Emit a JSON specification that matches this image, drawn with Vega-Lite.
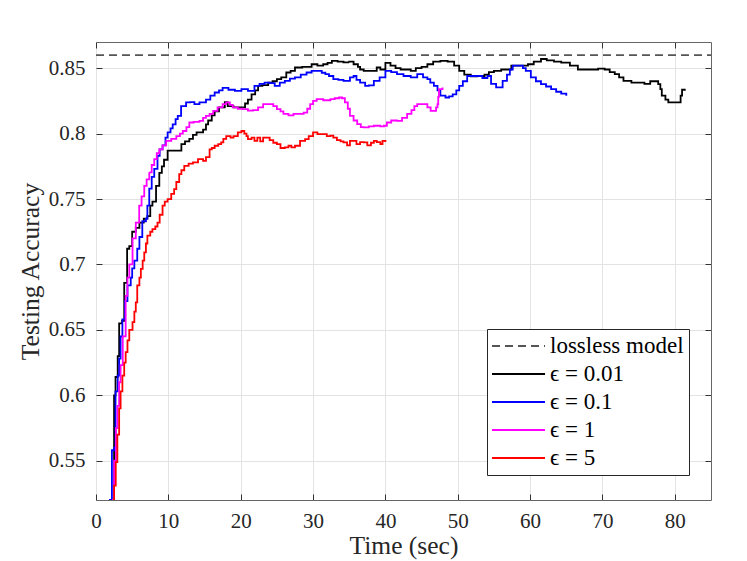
{
  "$schema": "https://vega.github.io/schema/vega-lite/v6.json",
  "description": "Testing accuracy over time for the lossless model and four epsilon settings.",
  "autosize": {"type": "none"},
  "padding": {"left": 96, "top": 42, "right": 36, "bottom": 61},
  "width": 615,
  "height": 458,
  "background": "white",
  "datasets": {
    "runs": [
      {"s": "lossless model", "t": 0, "v": 0.86},
      {"s": "lossless model", "t": 85, "v": 0.86},

      {"s": "ϵ = 0.01", "t": 2.2, "v": 0.52},
      {"s": "ϵ = 0.01", "t": 2.5, "v": 0.6},
      {"s": "ϵ = 0.01", "t": 2.7, "v": 0.614},
      {"s": "ϵ = 0.01", "t": 3.0, "v": 0.63},
      {"s": "ϵ = 0.01", "t": 3.2, "v": 0.655},
      {"s": "ϵ = 0.01", "t": 3.6, "v": 0.657},
      {"s": "ϵ = 0.01", "t": 3.9, "v": 0.686},
      {"s": "ϵ = 0.01", "t": 4.3, "v": 0.712},
      {"s": "ϵ = 0.01", "t": 4.6, "v": 0.714},
      {"s": "ϵ = 0.01", "t": 5.0, "v": 0.725},
      {"s": "ϵ = 0.01", "t": 5.5, "v": 0.728},
      {"s": "ϵ = 0.01", "t": 6.0, "v": 0.732},
      {"s": "ϵ = 0.01", "t": 6.6, "v": 0.735},
      {"s": "ϵ = 0.01", "t": 7.1, "v": 0.737},
      {"s": "ϵ = 0.01", "t": 7.5, "v": 0.745},
      {"s": "ϵ = 0.01", "t": 7.8, "v": 0.748},
      {"s": "ϵ = 0.01", "t": 8.3, "v": 0.76},
      {"s": "ϵ = 0.01", "t": 8.75, "v": 0.77},
      {"s": "ϵ = 0.01", "t": 9.1, "v": 0.775},
      {"s": "ϵ = 0.01", "t": 9.4, "v": 0.78},
      {"s": "ϵ = 0.01", "t": 9.9, "v": 0.787},
      {"s": "ϵ = 0.01", "t": 11.3, "v": 0.787},
      {"s": "ϵ = 0.01", "t": 11.8, "v": 0.792},
      {"s": "ϵ = 0.01", "t": 12.3, "v": 0.794},
      {"s": "ϵ = 0.01", "t": 12.9, "v": 0.796},
      {"s": "ϵ = 0.01", "t": 13.4, "v": 0.799},
      {"s": "ϵ = 0.01", "t": 13.9, "v": 0.801},
      {"s": "ϵ = 0.01", "t": 14.8, "v": 0.803},
      {"s": "ϵ = 0.01", "t": 15.2, "v": 0.807},
      {"s": "ϵ = 0.01", "t": 15.5, "v": 0.81},
      {"s": "ϵ = 0.01", "t": 16.0, "v": 0.814},
      {"s": "ϵ = 0.01", "t": 16.4, "v": 0.817},
      {"s": "ϵ = 0.01", "t": 17.0, "v": 0.82},
      {"s": "ϵ = 0.01", "t": 17.8, "v": 0.824},
      {"s": "ϵ = 0.01", "t": 18.2, "v": 0.821},
      {"s": "ϵ = 0.01", "t": 19.0, "v": 0.82},
      {"s": "ϵ = 0.01", "t": 20.1, "v": 0.82},
      {"s": "ϵ = 0.01", "t": 20.6, "v": 0.823},
      {"s": "ϵ = 0.01", "t": 21.0, "v": 0.826},
      {"s": "ϵ = 0.01", "t": 21.5, "v": 0.83},
      {"s": "ϵ = 0.01", "t": 22.0, "v": 0.833},
      {"s": "ϵ = 0.01", "t": 22.4, "v": 0.8365},
      {"s": "ϵ = 0.01", "t": 23.0, "v": 0.837},
      {"s": "ϵ = 0.01", "t": 23.8, "v": 0.839},
      {"s": "ϵ = 0.01", "t": 24.4, "v": 0.84},
      {"s": "ϵ = 0.01", "t": 25.0, "v": 0.8416},
      {"s": "ϵ = 0.01", "t": 25.6, "v": 0.843},
      {"s": "ϵ = 0.01", "t": 26.3, "v": 0.8467},
      {"s": "ϵ = 0.01", "t": 26.9, "v": 0.848},
      {"s": "ϵ = 0.01", "t": 27.5, "v": 0.8505},
      {"s": "ϵ = 0.01", "t": 28.5, "v": 0.851},
      {"s": "ϵ = 0.01", "t": 29.8, "v": 0.853},
      {"s": "ϵ = 0.01", "t": 30.6, "v": 0.852},
      {"s": "ϵ = 0.01", "t": 31.4, "v": 0.853},
      {"s": "ϵ = 0.01", "t": 32.0, "v": 0.854},
      {"s": "ϵ = 0.01", "t": 32.6, "v": 0.8556},
      {"s": "ϵ = 0.01", "t": 33.4, "v": 0.855},
      {"s": "ϵ = 0.01", "t": 34.2, "v": 0.8545},
      {"s": "ϵ = 0.01", "t": 35.0, "v": 0.855},
      {"s": "ϵ = 0.01", "t": 35.6, "v": 0.853},
      {"s": "ϵ = 0.01", "t": 36.2, "v": 0.851},
      {"s": "ϵ = 0.01", "t": 36.5, "v": 0.849},
      {"s": "ϵ = 0.01", "t": 37.0, "v": 0.848},
      {"s": "ϵ = 0.01", "t": 37.9, "v": 0.848},
      {"s": "ϵ = 0.01", "t": 38.8, "v": 0.8505},
      {"s": "ϵ = 0.01", "t": 39.3, "v": 0.849},
      {"s": "ϵ = 0.01", "t": 40.0, "v": 0.854},
      {"s": "ϵ = 0.01", "t": 40.7, "v": 0.852},
      {"s": "ϵ = 0.01", "t": 41.4, "v": 0.85},
      {"s": "ϵ = 0.01", "t": 42.1, "v": 0.849},
      {"s": "ϵ = 0.01", "t": 43.5, "v": 0.848},
      {"s": "ϵ = 0.01", "t": 44.2, "v": 0.85},
      {"s": "ϵ = 0.01", "t": 45.0, "v": 0.851},
      {"s": "ϵ = 0.01", "t": 45.8, "v": 0.853},
      {"s": "ϵ = 0.01", "t": 46.6, "v": 0.855},
      {"s": "ϵ = 0.01", "t": 47.6, "v": 0.8556},
      {"s": "ϵ = 0.01", "t": 48.6, "v": 0.855},
      {"s": "ϵ = 0.01", "t": 49.5, "v": 0.852},
      {"s": "ϵ = 0.01", "t": 50.2, "v": 0.848},
      {"s": "ϵ = 0.01", "t": 50.9, "v": 0.845},
      {"s": "ϵ = 0.01", "t": 51.8, "v": 0.8437},
      {"s": "ϵ = 0.01", "t": 52.7, "v": 0.844},
      {"s": "ϵ = 0.01", "t": 53.7, "v": 0.845},
      {"s": "ϵ = 0.01", "t": 54.3, "v": 0.847},
      {"s": "ϵ = 0.01", "t": 55.0, "v": 0.848},
      {"s": "ϵ = 0.01", "t": 56.0, "v": 0.849},
      {"s": "ϵ = 0.01", "t": 57.4, "v": 0.852},
      {"s": "ϵ = 0.01", "t": 58.5, "v": 0.852},
      {"s": "ϵ = 0.01", "t": 59.7, "v": 0.853},
      {"s": "ϵ = 0.01", "t": 60.5, "v": 0.855},
      {"s": "ϵ = 0.01", "t": 61.5, "v": 0.857},
      {"s": "ϵ = 0.01", "t": 62.3, "v": 0.856},
      {"s": "ϵ = 0.01", "t": 63.3, "v": 0.855},
      {"s": "ϵ = 0.01", "t": 64.3, "v": 0.8543},
      {"s": "ϵ = 0.01", "t": 65.5, "v": 0.852},
      {"s": "ϵ = 0.01", "t": 66.6, "v": 0.849},
      {"s": "ϵ = 0.01", "t": 67.8, "v": 0.849},
      {"s": "ϵ = 0.01", "t": 69.4, "v": 0.8497},
      {"s": "ϵ = 0.01", "t": 70.3, "v": 0.849},
      {"s": "ϵ = 0.01", "t": 71.0, "v": 0.847},
      {"s": "ϵ = 0.01", "t": 71.7, "v": 0.8454},
      {"s": "ϵ = 0.01", "t": 72.3, "v": 0.843},
      {"s": "ϵ = 0.01", "t": 72.9, "v": 0.8403},
      {"s": "ϵ = 0.01", "t": 74.0, "v": 0.839},
      {"s": "ϵ = 0.01", "t": 75.0, "v": 0.839},
      {"s": "ϵ = 0.01", "t": 75.8, "v": 0.838},
      {"s": "ϵ = 0.01", "t": 76.6, "v": 0.84},
      {"s": "ϵ = 0.01", "t": 77.7, "v": 0.8378},
      {"s": "ϵ = 0.01", "t": 78.0, "v": 0.834},
      {"s": "ϵ = 0.01", "t": 78.2, "v": 0.829},
      {"s": "ϵ = 0.01", "t": 78.7, "v": 0.826},
      {"s": "ϵ = 0.01", "t": 79.1, "v": 0.8238},
      {"s": "ϵ = 0.01", "t": 80.3, "v": 0.8238},
      {"s": "ϵ = 0.01", "t": 80.8, "v": 0.829},
      {"s": "ϵ = 0.01", "t": 81.0, "v": 0.8335},
      {"s": "ϵ = 0.01", "t": 81.5, "v": 0.8335},

      {"s": "ϵ = 0.1", "t": 1.8, "v": 0.52},
      {"s": "ϵ = 0.1", "t": 2.2, "v": 0.558},
      {"s": "ϵ = 0.1", "t": 2.5, "v": 0.56},
      {"s": "ϵ = 0.1", "t": 2.7, "v": 0.603},
      {"s": "ϵ = 0.1", "t": 3.0, "v": 0.615},
      {"s": "ϵ = 0.1", "t": 3.2, "v": 0.628},
      {"s": "ϵ = 0.1", "t": 3.4, "v": 0.645},
      {"s": "ϵ = 0.1", "t": 3.65, "v": 0.658},
      {"s": "ϵ = 0.1", "t": 4.0, "v": 0.672},
      {"s": "ϵ = 0.1", "t": 4.35, "v": 0.684},
      {"s": "ϵ = 0.1", "t": 4.8, "v": 0.69},
      {"s": "ϵ = 0.1", "t": 5.0, "v": 0.697},
      {"s": "ϵ = 0.1", "t": 5.3, "v": 0.703},
      {"s": "ϵ = 0.1", "t": 5.7, "v": 0.712},
      {"s": "ϵ = 0.1", "t": 6.0, "v": 0.721},
      {"s": "ϵ = 0.1", "t": 6.4, "v": 0.733},
      {"s": "ϵ = 0.1", "t": 6.9, "v": 0.735},
      {"s": "ϵ = 0.1", "t": 7.1, "v": 0.745},
      {"s": "ϵ = 0.1", "t": 7.36, "v": 0.758},
      {"s": "ϵ = 0.1", "t": 7.7, "v": 0.767},
      {"s": "ϵ = 0.1", "t": 8.05, "v": 0.773},
      {"s": "ϵ = 0.1", "t": 8.5, "v": 0.783},
      {"s": "ϵ = 0.1", "t": 8.8, "v": 0.788},
      {"s": "ϵ = 0.1", "t": 9.2, "v": 0.791},
      {"s": "ϵ = 0.1", "t": 9.6, "v": 0.797},
      {"s": "ϵ = 0.1", "t": 9.9, "v": 0.801},
      {"s": "ϵ = 0.1", "t": 10.3, "v": 0.804},
      {"s": "ϵ = 0.1", "t": 10.6, "v": 0.807},
      {"s": "ϵ = 0.1", "t": 11.0, "v": 0.811},
      {"s": "ϵ = 0.1", "t": 11.3, "v": 0.8136},
      {"s": "ϵ = 0.1", "t": 11.76, "v": 0.821},
      {"s": "ϵ = 0.1", "t": 12.45, "v": 0.8238},
      {"s": "ϵ = 0.1", "t": 13.0, "v": 0.824},
      {"s": "ϵ = 0.1", "t": 13.6, "v": 0.8225},
      {"s": "ϵ = 0.1", "t": 14.3, "v": 0.8238},
      {"s": "ϵ = 0.1", "t": 15.2, "v": 0.826},
      {"s": "ϵ = 0.1", "t": 15.8, "v": 0.829},
      {"s": "ϵ = 0.1", "t": 16.4, "v": 0.8314},
      {"s": "ϵ = 0.1", "t": 17.0, "v": 0.833},
      {"s": "ϵ = 0.1", "t": 17.5, "v": 0.835},
      {"s": "ϵ = 0.1", "t": 18.3, "v": 0.8335},
      {"s": "ϵ = 0.1", "t": 19.2, "v": 0.8327},
      {"s": "ϵ = 0.1", "t": 20.1, "v": 0.834},
      {"s": "ϵ = 0.1", "t": 21.0, "v": 0.8327},
      {"s": "ϵ = 0.1", "t": 21.9, "v": 0.8365},
      {"s": "ϵ = 0.1", "t": 22.6, "v": 0.838},
      {"s": "ϵ = 0.1", "t": 23.3, "v": 0.839},
      {"s": "ϵ = 0.1", "t": 24.0, "v": 0.8385},
      {"s": "ϵ = 0.1", "t": 24.7, "v": 0.8365},
      {"s": "ϵ = 0.1", "t": 25.4, "v": 0.839},
      {"s": "ϵ = 0.1", "t": 26.1, "v": 0.8403},
      {"s": "ϵ = 0.1", "t": 26.8, "v": 0.842},
      {"s": "ϵ = 0.1", "t": 27.5, "v": 0.843},
      {"s": "ϵ = 0.1", "t": 28.3, "v": 0.845},
      {"s": "ϵ = 0.1", "t": 29.1, "v": 0.8467},
      {"s": "ϵ = 0.1", "t": 29.8, "v": 0.848},
      {"s": "ϵ = 0.1", "t": 30.5, "v": 0.848},
      {"s": "ϵ = 0.1", "t": 31.2, "v": 0.8465},
      {"s": "ϵ = 0.1", "t": 31.7, "v": 0.8454},
      {"s": "ϵ = 0.1", "t": 32.2, "v": 0.844},
      {"s": "ϵ = 0.1", "t": 32.8, "v": 0.8416},
      {"s": "ϵ = 0.1", "t": 33.5, "v": 0.841},
      {"s": "ϵ = 0.1", "t": 34.2, "v": 0.8403},
      {"s": "ϵ = 0.1", "t": 35.1, "v": 0.843},
      {"s": "ϵ = 0.1", "t": 35.6, "v": 0.844},
      {"s": "ϵ = 0.1", "t": 36.0, "v": 0.841},
      {"s": "ϵ = 0.1", "t": 36.5, "v": 0.839},
      {"s": "ϵ = 0.1", "t": 37.2, "v": 0.8365},
      {"s": "ϵ = 0.1", "t": 37.7, "v": 0.8368},
      {"s": "ϵ = 0.1", "t": 38.4, "v": 0.8403},
      {"s": "ϵ = 0.1", "t": 39.2, "v": 0.843},
      {"s": "ϵ = 0.1", "t": 40.0, "v": 0.848},
      {"s": "ϵ = 0.1", "t": 40.8, "v": 0.847},
      {"s": "ϵ = 0.1", "t": 41.6, "v": 0.8454},
      {"s": "ϵ = 0.1", "t": 42.5, "v": 0.844},
      {"s": "ϵ = 0.1", "t": 43.5, "v": 0.843},
      {"s": "ϵ = 0.1", "t": 44.4, "v": 0.8454},
      {"s": "ϵ = 0.1", "t": 45.2, "v": 0.843},
      {"s": "ϵ = 0.1", "t": 45.8, "v": 0.8416},
      {"s": "ϵ = 0.1", "t": 46.2, "v": 0.839},
      {"s": "ϵ = 0.1", "t": 46.7, "v": 0.8365},
      {"s": "ϵ = 0.1", "t": 47.2, "v": 0.833},
      {"s": "ϵ = 0.1", "t": 47.6, "v": 0.829},
      {"s": "ϵ = 0.1", "t": 48.3, "v": 0.8276},
      {"s": "ϵ = 0.1", "t": 48.8, "v": 0.8285},
      {"s": "ϵ = 0.1", "t": 49.3, "v": 0.83},
      {"s": "ϵ = 0.1", "t": 49.8, "v": 0.833},
      {"s": "ϵ = 0.1", "t": 50.2, "v": 0.8365},
      {"s": "ϵ = 0.1", "t": 50.7, "v": 0.84},
      {"s": "ϵ = 0.1", "t": 51.3, "v": 0.844},
      {"s": "ϵ = 0.1", "t": 52.7, "v": 0.844},
      {"s": "ϵ = 0.1", "t": 53.4, "v": 0.8425},
      {"s": "ϵ = 0.1", "t": 54.1, "v": 0.844},
      {"s": "ϵ = 0.1", "t": 54.6, "v": 0.838},
      {"s": "ϵ = 0.1", "t": 55.3, "v": 0.8353},
      {"s": "ϵ = 0.1", "t": 56.2, "v": 0.8403},
      {"s": "ϵ = 0.1", "t": 56.8, "v": 0.845},
      {"s": "ϵ = 0.1", "t": 57.2, "v": 0.849},
      {"s": "ϵ = 0.1", "t": 57.6, "v": 0.852},
      {"s": "ϵ = 0.1", "t": 58.5, "v": 0.852},
      {"s": "ϵ = 0.1", "t": 59.0, "v": 0.85},
      {"s": "ϵ = 0.1", "t": 59.4, "v": 0.848},
      {"s": "ϵ = 0.1", "t": 60.1, "v": 0.843},
      {"s": "ϵ = 0.1", "t": 60.8, "v": 0.84},
      {"s": "ϵ = 0.1", "t": 61.5, "v": 0.8378},
      {"s": "ϵ = 0.1", "t": 62.2, "v": 0.836},
      {"s": "ϵ = 0.1", "t": 62.9, "v": 0.834},
      {"s": "ϵ = 0.1", "t": 63.6, "v": 0.832},
      {"s": "ϵ = 0.1", "t": 64.3, "v": 0.8305},
      {"s": "ϵ = 0.1", "t": 65.0, "v": 0.829},

      {"s": "ϵ = 1", "t": 2.2, "v": 0.52},
      {"s": "ϵ = 1", "t": 2.5, "v": 0.55},
      {"s": "ϵ = 1", "t": 2.75, "v": 0.575},
      {"s": "ϵ = 1", "t": 2.96, "v": 0.592},
      {"s": "ϵ = 1", "t": 3.2, "v": 0.61},
      {"s": "ϵ = 1", "t": 3.4, "v": 0.623},
      {"s": "ϵ = 1", "t": 3.7, "v": 0.645},
      {"s": "ϵ = 1", "t": 4.1, "v": 0.676},
      {"s": "ϵ = 1", "t": 4.35, "v": 0.69},
      {"s": "ϵ = 1", "t": 4.6, "v": 0.7},
      {"s": "ϵ = 1", "t": 5.05, "v": 0.72},
      {"s": "ϵ = 1", "t": 5.5, "v": 0.732},
      {"s": "ϵ = 1", "t": 5.97, "v": 0.745},
      {"s": "ϵ = 1", "t": 6.3, "v": 0.752},
      {"s": "ϵ = 1", "t": 6.67, "v": 0.76},
      {"s": "ϵ = 1", "t": 7.0, "v": 0.765},
      {"s": "ϵ = 1", "t": 7.36, "v": 0.7704},
      {"s": "ϵ = 1", "t": 7.7, "v": 0.776},
      {"s": "ϵ = 1", "t": 8.05, "v": 0.7805},
      {"s": "ϵ = 1", "t": 8.4, "v": 0.785},
      {"s": "ϵ = 1", "t": 8.75, "v": 0.788},
      {"s": "ϵ = 1", "t": 9.2, "v": 0.791},
      {"s": "ϵ = 1", "t": 9.7, "v": 0.7945},
      {"s": "ϵ = 1", "t": 10.4, "v": 0.796},
      {"s": "ϵ = 1", "t": 11.1, "v": 0.798},
      {"s": "ϵ = 1", "t": 11.6, "v": 0.8},
      {"s": "ϵ = 1", "t": 12.0, "v": 0.802},
      {"s": "ϵ = 1", "t": 12.5, "v": 0.805},
      {"s": "ϵ = 1", "t": 12.9, "v": 0.8085},
      {"s": "ϵ = 1", "t": 13.5, "v": 0.809},
      {"s": "ϵ = 1", "t": 14.3, "v": 0.8098},
      {"s": "ϵ = 1", "t": 14.8, "v": 0.812},
      {"s": "ϵ = 1", "t": 15.2, "v": 0.8136},
      {"s": "ϵ = 1", "t": 15.7, "v": 0.815},
      {"s": "ϵ = 1", "t": 16.2, "v": 0.8174},
      {"s": "ϵ = 1", "t": 16.8, "v": 0.82},
      {"s": "ϵ = 1", "t": 17.5, "v": 0.8225},
      {"s": "ϵ = 1", "t": 18.0, "v": 0.8238},
      {"s": "ϵ = 1", "t": 18.5, "v": 0.822},
      {"s": "ϵ = 1", "t": 18.9, "v": 0.82},
      {"s": "ϵ = 1", "t": 19.6, "v": 0.819},
      {"s": "ϵ = 1", "t": 20.3, "v": 0.8187},
      {"s": "ϵ = 1", "t": 21.0, "v": 0.8175},
      {"s": "ϵ = 1", "t": 21.7, "v": 0.818},
      {"s": "ϵ = 1", "t": 22.4, "v": 0.82},
      {"s": "ϵ = 1", "t": 23.1, "v": 0.8225},
      {"s": "ϵ = 1", "t": 24.0, "v": 0.8225},
      {"s": "ϵ = 1", "t": 24.5, "v": 0.821},
      {"s": "ϵ = 1", "t": 25.0, "v": 0.8187},
      {"s": "ϵ = 1", "t": 25.5, "v": 0.817},
      {"s": "ϵ = 1", "t": 25.9, "v": 0.815},
      {"s": "ϵ = 1", "t": 26.6, "v": 0.814},
      {"s": "ϵ = 1", "t": 27.3, "v": 0.815},
      {"s": "ϵ = 1", "t": 28.0, "v": 0.815},
      {"s": "ϵ = 1", "t": 28.7, "v": 0.816},
      {"s": "ϵ = 1", "t": 29.2, "v": 0.819},
      {"s": "ϵ = 1", "t": 29.6, "v": 0.8225},
      {"s": "ϵ = 1", "t": 30.0, "v": 0.825},
      {"s": "ϵ = 1", "t": 30.5, "v": 0.8263},
      {"s": "ϵ = 1", "t": 31.4, "v": 0.8255},
      {"s": "ϵ = 1", "t": 32.4, "v": 0.8263},
      {"s": "ϵ = 1", "t": 33.0, "v": 0.827},
      {"s": "ϵ = 1", "t": 33.6, "v": 0.8276},
      {"s": "ϵ = 1", "t": 34.0, "v": 0.827},
      {"s": "ϵ = 1", "t": 34.4, "v": 0.8238},
      {"s": "ϵ = 1", "t": 34.8, "v": 0.819},
      {"s": "ϵ = 1", "t": 35.1, "v": 0.8136},
      {"s": "ϵ = 1", "t": 35.6, "v": 0.81},
      {"s": "ϵ = 1", "t": 36.1, "v": 0.8073},
      {"s": "ϵ = 1", "t": 36.6, "v": 0.805},
      {"s": "ϵ = 1", "t": 37.0, "v": 0.8047},
      {"s": "ϵ = 1", "t": 37.7, "v": 0.8055},
      {"s": "ϵ = 1", "t": 38.4, "v": 0.806},
      {"s": "ϵ = 1", "t": 39.3, "v": 0.8055},
      {"s": "ϵ = 1", "t": 39.8, "v": 0.806},
      {"s": "ϵ = 1", "t": 40.2, "v": 0.8085},
      {"s": "ϵ = 1", "t": 40.8, "v": 0.81},
      {"s": "ϵ = 1", "t": 41.6, "v": 0.8098},
      {"s": "ϵ = 1", "t": 42.3, "v": 0.812},
      {"s": "ϵ = 1", "t": 43.0, "v": 0.815},
      {"s": "ϵ = 1", "t": 43.6, "v": 0.818},
      {"s": "ϵ = 1", "t": 44.0, "v": 0.821},
      {"s": "ϵ = 1", "t": 44.4, "v": 0.8225},
      {"s": "ϵ = 1", "t": 45.3, "v": 0.8225},
      {"s": "ϵ = 1", "t": 45.8, "v": 0.82},
      {"s": "ϵ = 1", "t": 46.25, "v": 0.8174},
      {"s": "ϵ = 1", "t": 46.7, "v": 0.8174},
      {"s": "ϵ = 1", "t": 47.0, "v": 0.82},
      {"s": "ϵ = 1", "t": 47.2, "v": 0.8225},
      {"s": "ϵ = 1", "t": 47.3, "v": 0.828},
      {"s": "ϵ = 1", "t": 47.4, "v": 0.834},
      {"s": "ϵ = 1", "t": 47.9, "v": 0.8353},

      {"s": "ϵ = 5", "t": 2.3, "v": 0.52},
      {"s": "ϵ = 5", "t": 2.5, "v": 0.531},
      {"s": "ϵ = 5", "t": 2.73, "v": 0.549},
      {"s": "ϵ = 5", "t": 2.95, "v": 0.57},
      {"s": "ϵ = 5", "t": 3.2, "v": 0.59},
      {"s": "ϵ = 5", "t": 3.4, "v": 0.603},
      {"s": "ϵ = 5", "t": 3.65, "v": 0.615},
      {"s": "ϵ = 5", "t": 3.9, "v": 0.625},
      {"s": "ϵ = 5", "t": 4.1, "v": 0.633},
      {"s": "ϵ = 5", "t": 4.35, "v": 0.642},
      {"s": "ϵ = 5", "t": 4.6, "v": 0.65},
      {"s": "ϵ = 5", "t": 5.05, "v": 0.656},
      {"s": "ϵ = 5", "t": 5.3, "v": 0.664},
      {"s": "ϵ = 5", "t": 5.5, "v": 0.671},
      {"s": "ϵ = 5", "t": 5.7, "v": 0.684},
      {"s": "ϵ = 5", "t": 6.0, "v": 0.69},
      {"s": "ϵ = 5", "t": 6.2, "v": 0.6966},
      {"s": "ϵ = 5", "t": 6.45, "v": 0.703},
      {"s": "ϵ = 5", "t": 6.67, "v": 0.7093},
      {"s": "ϵ = 5", "t": 6.9, "v": 0.716},
      {"s": "ϵ = 5", "t": 7.1, "v": 0.722},
      {"s": "ϵ = 5", "t": 7.5, "v": 0.725},
      {"s": "ϵ = 5", "t": 7.8, "v": 0.727},
      {"s": "ϵ = 5", "t": 8.2, "v": 0.729},
      {"s": "ϵ = 5", "t": 8.5, "v": 0.732},
      {"s": "ϵ = 5", "t": 8.8, "v": 0.738},
      {"s": "ϵ = 5", "t": 9.2, "v": 0.745},
      {"s": "ϵ = 5", "t": 9.5, "v": 0.748},
      {"s": "ϵ = 5", "t": 9.9, "v": 0.75},
      {"s": "ϵ = 5", "t": 10.4, "v": 0.754},
      {"s": "ϵ = 5", "t": 10.8, "v": 0.7576},
      {"s": "ϵ = 5", "t": 11.1, "v": 0.763},
      {"s": "ϵ = 5", "t": 11.5, "v": 0.769},
      {"s": "ϵ = 5", "t": 11.8, "v": 0.772},
      {"s": "ϵ = 5", "t": 12.2, "v": 0.7754},
      {"s": "ϵ = 5", "t": 12.8, "v": 0.777},
      {"s": "ϵ = 5", "t": 13.4, "v": 0.778},
      {"s": "ϵ = 5", "t": 14.1, "v": 0.7805},
      {"s": "ϵ = 5", "t": 14.8, "v": 0.7792},
      {"s": "ϵ = 5", "t": 15.2, "v": 0.782},
      {"s": "ϵ = 5", "t": 15.7, "v": 0.788},
      {"s": "ϵ = 5", "t": 16.0, "v": 0.789},
      {"s": "ϵ = 5", "t": 16.4, "v": 0.7907},
      {"s": "ϵ = 5", "t": 16.9, "v": 0.792},
      {"s": "ϵ = 5", "t": 17.3, "v": 0.7933},
      {"s": "ϵ = 5", "t": 17.6, "v": 0.796},
      {"s": "ϵ = 5", "t": 18.0, "v": 0.798},
      {"s": "ϵ = 5", "t": 18.6, "v": 0.797},
      {"s": "ϵ = 5", "t": 19.0, "v": 0.798},
      {"s": "ϵ = 5", "t": 19.6, "v": 0.801},
      {"s": "ϵ = 5", "t": 20.1, "v": 0.802},
      {"s": "ϵ = 5", "t": 20.5, "v": 0.8},
      {"s": "ϵ = 5", "t": 20.8, "v": 0.798},
      {"s": "ϵ = 5", "t": 21.0, "v": 0.7958},
      {"s": "ϵ = 5", "t": 21.5, "v": 0.797},
      {"s": "ϵ = 5", "t": 21.9, "v": 0.7945},
      {"s": "ϵ = 5", "t": 22.3, "v": 0.797},
      {"s": "ϵ = 5", "t": 22.7, "v": 0.794},
      {"s": "ϵ = 5", "t": 23.1, "v": 0.797},
      {"s": "ϵ = 5", "t": 23.6, "v": 0.797},
      {"s": "ϵ = 5", "t": 24.0, "v": 0.795},
      {"s": "ϵ = 5", "t": 24.5, "v": 0.793},
      {"s": "ϵ = 5", "t": 25.0, "v": 0.792},
      {"s": "ϵ = 5", "t": 25.5, "v": 0.789},
      {"s": "ϵ = 5", "t": 26.1, "v": 0.7895},
      {"s": "ϵ = 5", "t": 26.6, "v": 0.7907},
      {"s": "ϵ = 5", "t": 27.0, "v": 0.7895},
      {"s": "ϵ = 5", "t": 27.5, "v": 0.7907},
      {"s": "ϵ = 5", "t": 28.2, "v": 0.7945},
      {"s": "ϵ = 5", "t": 28.9, "v": 0.7958},
      {"s": "ϵ = 5", "t": 29.4, "v": 0.798},
      {"s": "ϵ = 5", "t": 30.0, "v": 0.801},
      {"s": "ϵ = 5", "t": 30.6, "v": 0.7996},
      {"s": "ϵ = 5", "t": 31.4, "v": 0.7996},
      {"s": "ϵ = 5", "t": 31.9, "v": 0.798},
      {"s": "ϵ = 5", "t": 32.4, "v": 0.7985},
      {"s": "ϵ = 5", "t": 32.8, "v": 0.797},
      {"s": "ϵ = 5", "t": 33.3, "v": 0.795},
      {"s": "ϵ = 5", "t": 33.8, "v": 0.794},
      {"s": "ϵ = 5", "t": 34.2, "v": 0.7933},
      {"s": "ϵ = 5", "t": 34.7, "v": 0.791},
      {"s": "ϵ = 5", "t": 35.1, "v": 0.7945},
      {"s": "ϵ = 5", "t": 35.6, "v": 0.7945},
      {"s": "ϵ = 5", "t": 36.0, "v": 0.792},
      {"s": "ϵ = 5", "t": 36.5, "v": 0.7935},
      {"s": "ϵ = 5", "t": 37.0, "v": 0.7933},
      {"s": "ϵ = 5", "t": 37.5, "v": 0.791},
      {"s": "ϵ = 5", "t": 38.0, "v": 0.793},
      {"s": "ϵ = 5", "t": 38.4, "v": 0.7945},
      {"s": "ϵ = 5", "t": 38.8, "v": 0.7935},
      {"s": "ϵ = 5", "t": 39.3, "v": 0.792},
      {"s": "ϵ = 5", "t": 39.6, "v": 0.7945},
      {"s": "ϵ = 5", "t": 40.0, "v": 0.7935}
    ],
    "frame": [{"t": 0, "v": 0.86}]
  },
  "layer": [
    {
      "data": {"name": "runs"},
      "mark": {"type": "line", "interpolate": "step-after", "strokeWidth": 1.8, "clip": true},
      "encoding": {
        "x": {
          "field": "t",
          "type": "quantitative",
          "title": "Time (sec)",
          "scale": {"domain": [0, 85], "nice": false, "zero": false},
          "axis": {"values": [0, 10, 20, 30, 40, 50, 60, 70, 80], "format": "d", "grid": true, "labelFlush": false, "labelPadding": 16, "titlePadding": 2}
        },
        "y": {
          "field": "v",
          "type": "quantitative",
          "title": "Testing Accuracy",
          "scale": {"domain": [0.52, 0.87], "nice": false, "zero": false},
          "axis": {"values": [0.55, 0.6, 0.65, 0.7, 0.75, 0.8, 0.85], "format": ".2~f", "grid": true, "labelFlush": false, "labelPadding": 17, "titlePadding": 5}
        },
        "color": {
          "field": "s",
          "type": "nominal",
          "title": null,
          "scale": {
            "domain": ["lossless model", "ϵ = 0.01", "ϵ = 0.1", "ϵ = 1", "ϵ = 5"],
            "range": ["#555555", "#000000", "#0000ff", "#ff00ff", "#ff0000"]
          }
        },
        "strokeDash": {
          "field": "s",
          "type": "nominal",
          "title": null,
          "scale": {
            "domain": ["lossless model", "ϵ = 0.01", "ϵ = 0.1", "ϵ = 1", "ϵ = 5"],
            "range": [[8, 5], [1, 0], [1, 0], [1, 0], [1, 0]]
          }
        }
      }
    },
    {
      "data": {"name": "frame"},
      "mark": {"type": "point", "opacity": 0},
      "encoding": {
        "x": {"field": "t", "type": "quantitative", "axis": {"orient": "top", "values": [0, 10, 20, 30, 40, 50, 60, 70, 80], "labels": false, "title": null, "grid": false}},
        "y": {"field": "v", "type": "quantitative", "axis": {"orient": "right", "values": [0.55, 0.6, 0.65, 0.7, 0.75, 0.8, 0.85], "labels": false, "title": null, "grid": false}}
      }
    }
  ],
  "resolve": {"axis": {"x": "independent", "y": "independent"}},
  "config": {
    "view": {"stroke": "#666666", "strokeWidth": 1},
    "axis": {
      "labelFont": "Liberation Serif",
      "titleFont": "Liberation Serif",
      "labelFontSize": 21,
      "titleFontSize": 25.5,
      "titleFontWeight": "normal",
      "labelColor": "#262626",
      "titleColor": "#262626",
      "domain": false,
      "tickColor": "#333333",
      "tickSize": -6,
      "tickWidth": 1,
      "gridColor": "#e3e3e3",
      "gridWidth": 1
    },
    "legend": {
      "orient": "none",
      "legendX": 391,
      "legendY": 287,
      "symbolType": "M-1.13,0H3.87",
      "symbolSize": 450,
      "symbolStrokeWidth": 2,
      "labelFont": "Liberation Serif",
      "labelFontSize": 23,
      "labelColor": "#000000",
      "labelOffset": 34,
      "rowPadding": 4,
      "padding": 5,
      "strokeColor": "#262626",
      "fillColor": "white",
      "labelLimit": 300
    }
  }
}
